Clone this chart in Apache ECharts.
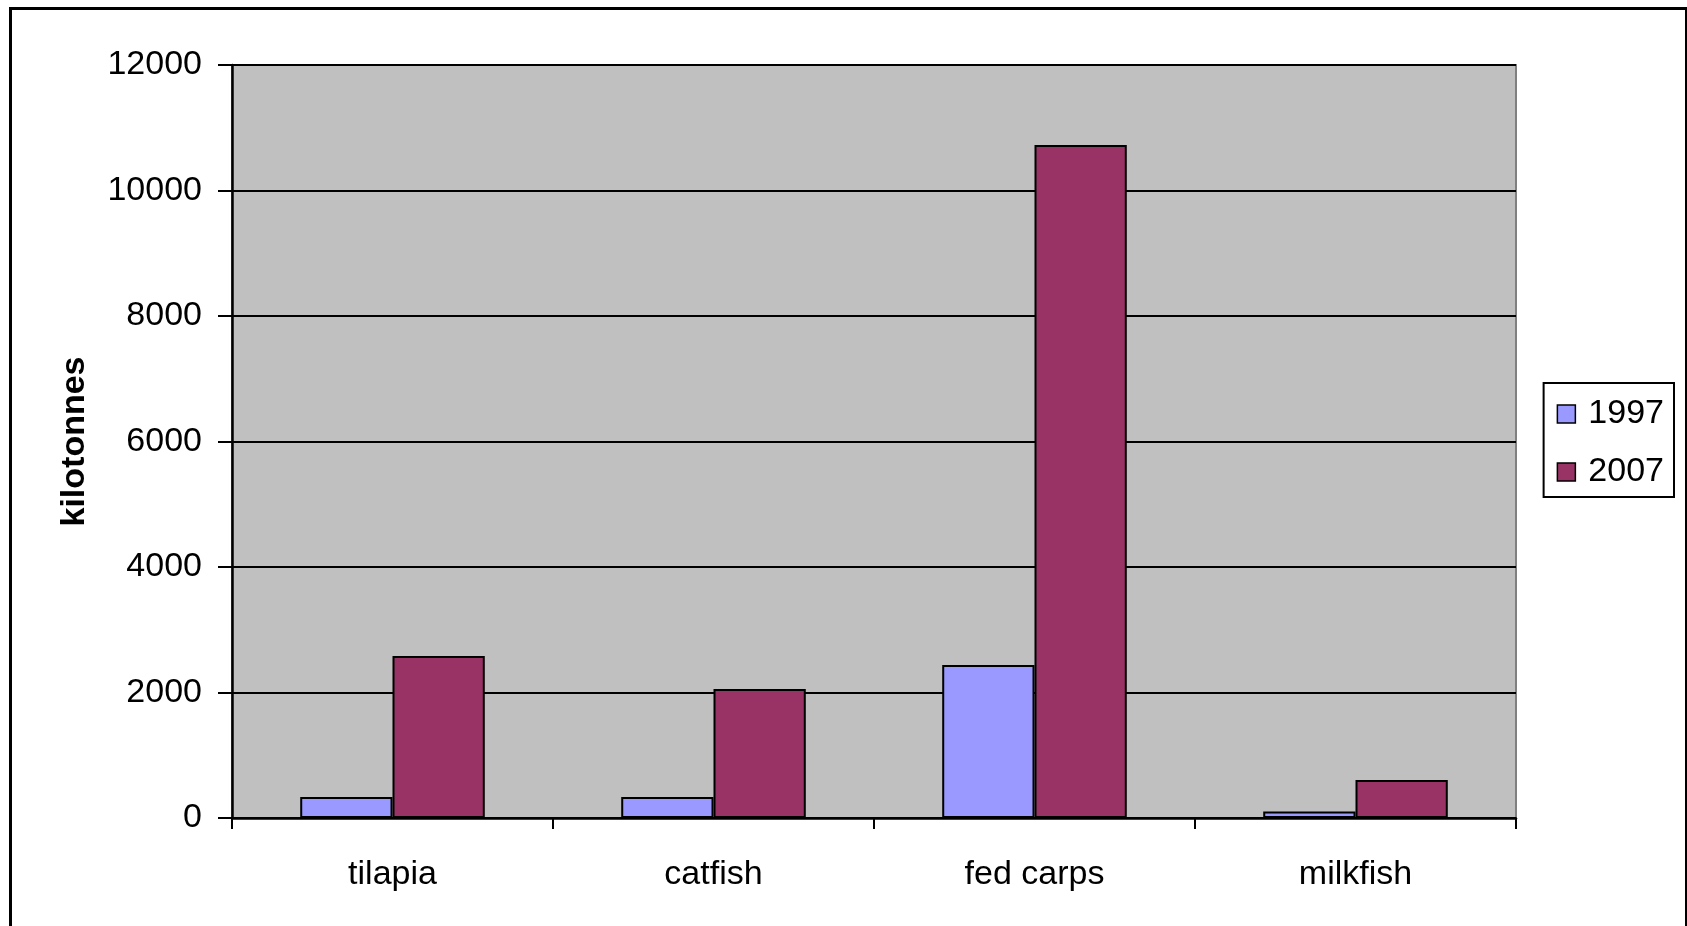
<!DOCTYPE html>
<html>
<head>
<meta charset="utf-8">
<script src="https://cdn.jsdelivr.net/npm/echarts@6/dist/echarts.min.js"></script>
<style>
  html, body { margin: 0; padding: 0; background: #fff; }
  #chart { width: 1687px; height: 926px; }
</style>
</head>
<body>
<div id="chart"></div>
<script>
// Aquaculture production by species group (kilotonnes)
const categories = ['tilapia', 'catfish', 'fed carps', 'milkfish'];
const years = ['1997', '2007'];
const values1997 = [335, 335, 2440, 105];
const values2007 = [2580, 2055, 10725, 605];
const yTicks = { min: 0, max: 12000, interval: 2000 };

const FONT = '"Liberation Sans", Arial, sans-serif';
const chart = echarts.init(document.getElementById('chart'), null, { renderer: 'canvas' });

chart.setOption({
  animation: false,
  backgroundColor: '#ffffff',
  textStyle: { fontFamily: FONT, color: '#000' },
  graphic: [{
    type: 'rect',
    left: 8, top: 6,
    shape: { width: 1676, height: 930 },
    style: { fill: 'none', stroke: '#000', lineWidth: 3 },
    silent: true
  }],
  grid: {
    left: 232, right: 171, top: 65, bottom: 108,
    show: true,
    backgroundColor: '#c0c0c0',
    borderColor: '#808080',
    borderWidth: 2
  },
  legend: {
    orient: 'vertical',
    right: 13, top: 383,
    data: years,
    icon: 'rect',
    itemWidth: 18, itemHeight: 18,
    itemGap: 24,
    padding: [14, 10, 8, 13],
    borderColor: '#000', borderWidth: 2,
    backgroundColor: '#fff',
    textStyle: { fontSize: 34, fontFamily: FONT, color: '#000', padding: [0, 0, 0, 8] },
    itemStyle: { borderColor: '#000', borderWidth: 1.5 }
  },
  xAxis: {
    type: 'category',
    data: categories,
    axisLine: { lineStyle: { color: '#000', width: 2.5 } },
    axisTick: { show: true, alignWithLabel: false, length: 11, lineStyle: { color: '#000', width: 2 } },
    axisLabel: { fontSize: 34, fontFamily: FONT, color: '#000', margin: 40 },
    splitLine: { show: false }
  },
  yAxis: {
    type: 'value',
    min: yTicks.min, max: yTicks.max, interval: yTicks.interval,
    name: 'kilotonnes',
    nameLocation: 'middle',
    nameGap: 140,
    nameRotate: 90,
    nameTextStyle: { fontSize: 34, fontWeight: 'bold', fontFamily: FONT, color: '#000' },
    axisLine: { show: true, lineStyle: { color: '#000', width: 2.5 } },
    axisTick: { show: true, inside: false, length: 14, lineStyle: { color: '#000', width: 2 } },
    axisLabel: {
      fontSize: 34, fontFamily: FONT, color: '#000', margin: 30,
      formatter: (v) => String(v)
    },
    splitLine: { show: true, lineStyle: { color: '#000', width: 2 } }
  },
  series: [
    {
      name: years[0], type: 'bar', data: values1997,
      barGap: '0%', barCategoryGap: '42.5%',
      itemStyle: { color: '#9999ff', borderColor: '#000', borderWidth: 2 }
    },
    {
      name: years[1], type: 'bar', data: values2007,
      barGap: '0%', barCategoryGap: '42.5%',
      itemStyle: { color: '#993366', borderColor: '#000', borderWidth: 2 }
    }
  ]
});
</script>
</body>
</html>
